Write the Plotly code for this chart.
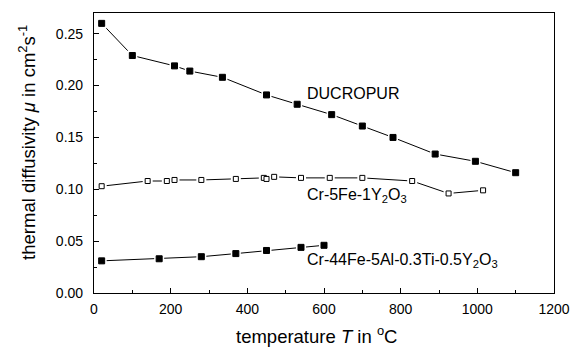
import plotly.graph_objects as go

duc_T = [20, 100, 210, 250, 335, 450, 530, 620, 700, 780, 890, 995, 1100]
duc_mu = [0.260, 0.229, 0.219, 0.214, 0.208, 0.191, 0.182, 0.172, 0.161, 0.150, 0.134, 0.127, 0.116]

cr5_T = [20, 140, 190, 210, 280, 370, 443, 450, 470, 540, 615, 700, 830, 925, 1015]
cr5_mu = [0.103, 0.108, 0.108, 0.109, 0.109, 0.110, 0.111, 0.110, 0.112, 0.111, 0.111, 0.111, 0.108, 0.096, 0.099]

cr44_T = [20, 170, 280, 370, 450, 540, 600]
cr44_mu = [0.031, 0.033, 0.035, 0.038, 0.041, 0.044, 0.046]

labels = ["DUCROPUR", "Cr-5Fe-1Y<sub>2</sub>O<sub>3</sub>", "Cr-44Fe-5Al-0.3Ti-0.5Y<sub>2</sub>O<sub>3</sub>"]
label_x = [550, 550, 550]
label_y = [0.192, 0.094, 0.031]

x_title = "temperature <i>T</i> in <sup>o</sup>C"
y_title = "thermal diffusivity <i>μ</i> in cm<sup>2</sup>s<sup>-1</sup>"

FONT = "Liberation Sans, Arial, sans-serif"
fig = go.Figure()

series = [(duc_T, duc_mu, "black"), (cr5_T, cr5_mu, "white"), (cr44_T, cr44_mu, "black")]
for xs, ys, fill in series:
    fig.add_trace(go.Scatter(x=xs, y=ys, mode="lines", line=dict(color="black", width=1),
                             showlegend=False, hoverinfo="skip"))
    fig.add_trace(go.Scatter(x=xs, y=ys, mode="markers",
                             marker=dict(symbol="square", size=10, color="white", line=dict(width=0)),
                             showlegend=False, hoverinfo="skip"))
    fig.add_trace(go.Scatter(x=xs, y=ys, mode="markers",
                             marker=dict(symbol="square", size=6 if fill == "black" else 5, color=fill,
                                         line=dict(color="black", width=1)),
                             showlegend=False))

for t, x, y in zip(labels, label_x, label_y):
    fig.add_annotation(x=x, y=y, text=t, showarrow=False, xanchor="left", yanchor="middle",
                       font=dict(family=FONT, size=16, color="black"))

fig.add_annotation(x=0.483, y=-0.15, xref="paper", yref="paper", text=x_title, showarrow=False,
                   xanchor="center", yanchor="middle", font=dict(family=FONT, size=18.5, color="black"))
fig.add_annotation(x=-0.147, y=0.5375, xref="paper", yref="paper", text=y_title, showarrow=False,
                   textangle=-90, xanchor="center", yanchor="middle",
                   font=dict(family=FONT, size=18.5, color="black"))

fig.update_layout(
    width=583, height=348,
    margin=dict(l=94, r=29, t=13, b=55),
    paper_bgcolor="white", plot_bgcolor="white",
    font=dict(family=FONT, size=14, color="black"),
    xaxis=dict(range=[0, 1200], dtick=200, ticks="inside", ticklen=5, tickcolor="black",
               minor=dict(dtick=100, ticks="inside", ticklen=3, tickcolor="black"),
               ticklabelstandoff=3, automargin=False,
               showline=True, linecolor="black", linewidth=1.2, mirror=True, showgrid=False,
               zeroline=False),
    yaxis=dict(range=[0, 0.27], dtick=0.05, tickformat=".2f", ticks="inside", ticklen=5,
               tickcolor="black", automargin=False, ticklabelstandoff=7,
               minor=dict(dtick=0.025, ticks="inside", ticklen=3, tickcolor="black"),
               showline=True, linecolor="black", linewidth=1.2, mirror=True, showgrid=False,
               zeroline=False),
)

fig.write_html("out.html")
